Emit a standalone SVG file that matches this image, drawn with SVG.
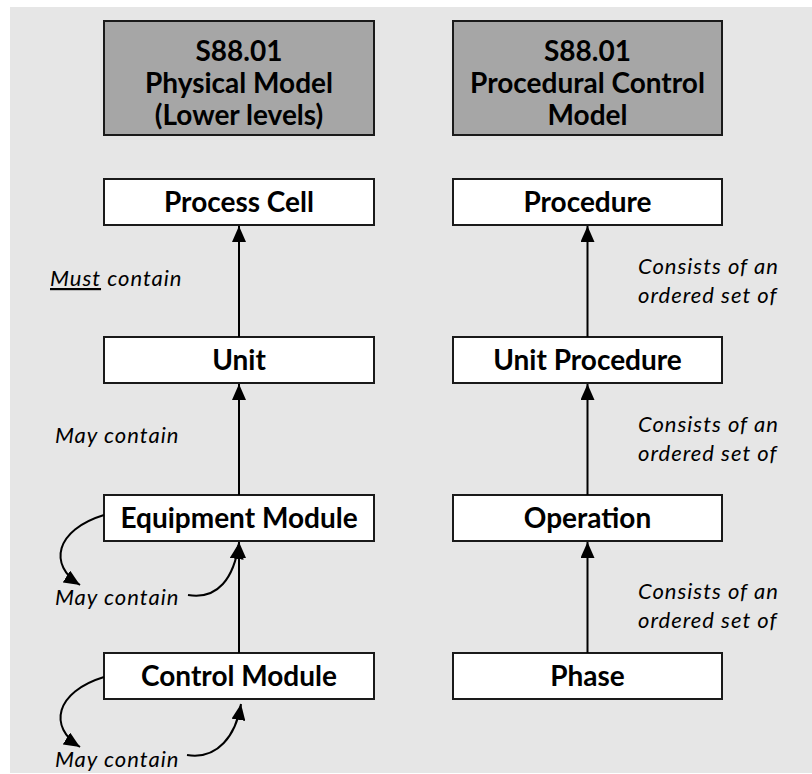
<svg xmlns="http://www.w3.org/2000/svg" width="812" height="774" viewBox="0 0 812 774">
  <style>
    .hdr { fill: #a6a6a6; stroke: #1a1a1a; stroke-width: 2; }
    .box { fill: #ffffff; stroke: #1a1a1a; stroke-width: 2; }
    .bold { font-family: Lato, "Liberation Sans", sans-serif; font-weight: bold; font-size: 28px; fill: #000; text-anchor: middle; }
    .lbl { font-family: Lato, "Liberation Sans", sans-serif; font-style: italic; font-size: 22px; letter-spacing: 1px; fill: #000; }
    .edge { fill: none; stroke: #000; stroke-width: 2; }
  </style>
  <defs>
    <marker id="arrow" viewBox="0 0 16 14" refX="16" refY="7" markerWidth="16" markerHeight="14" markerUnits="userSpaceOnUse" orient="auto">
      <path d="M0,0 L16,7 L0,14 Z" fill="#000"/>
    </marker>
  </defs>

  <!-- canvas -->
  <rect x="10" y="7" width="802" height="766" fill="#e6e6e6"/>

  <!-- column headers -->
  <g id="hdr-physical">
    <rect class="hdr" x="104" y="21" width="270" height="114"/>
    <text class="bold" x="239" y="61">S88.01</text>
    <text class="bold" x="239" y="93">Physical Model</text>
    <text class="bold" x="239" y="125">(Lower levels)</text>
  </g>
  <g id="hdr-procedural">
    <rect class="hdr" x="453" y="21" width="269" height="114"/>
    <text class="bold" x="587.5" y="61">S88.01</text>
    <text class="bold" x="587.5" y="93">Procedural Control</text>
    <text class="bold" x="587.5" y="125">Model</text>
  </g>

  <!-- physical model nodes -->
  <g id="process-cell">
    <rect class="box" x="104" y="179" width="270" height="46"/>
    <text class="bold" x="239" y="212">Process Cell</text>
  </g>
  <g id="unit">
    <rect class="box" x="104" y="337" width="270" height="46"/>
    <text class="bold" x="239" y="370">Unit</text>
  </g>
  <g id="equipment-module">
    <rect class="box" x="104" y="495" width="270" height="46"/>
    <text class="bold" x="239" y="528">Equipment Module</text>
  </g>
  <g id="control-module">
    <rect class="box" x="104" y="653" width="270" height="46"/>
    <text class="bold" x="239" y="686">Control Module</text>
  </g>

  <!-- procedural control model nodes -->
  <g id="procedure">
    <rect class="box" x="453" y="179" width="269" height="46"/>
    <text class="bold" x="587.5" y="212">Procedure</text>
  </g>
  <g id="unit-procedure">
    <rect class="box" x="453" y="337" width="269" height="46"/>
    <text class="bold" x="587.5" y="370">Unit Procedure</text>
  </g>
  <g id="operation">
    <rect class="box" x="453" y="495" width="269" height="46"/>
    <text class="bold" x="587.5" y="528">Operation</text>
  </g>
  <g id="phase">
    <rect class="box" x="453" y="653" width="269" height="46"/>
    <text class="bold" x="587.5" y="686">Phase</text>
  </g>

  <!-- connectors -->
  <g id="connectors">
    <path class="edge" d="M239,337 V226" marker-end="url(#arrow)"/>
    <path class="edge" d="M239,495 V384" marker-end="url(#arrow)"/>
    <path class="edge" d="M239,653 V542" marker-end="url(#arrow)"/>
    <path class="edge" d="M587.5,337 V226" marker-end="url(#arrow)"/>
    <path class="edge" d="M587.5,495 V384" marker-end="url(#arrow)"/>
    <path class="edge" d="M587.5,653 V542" marker-end="url(#arrow)"/>
    <!-- self-containment loops -->
    <path class="edge" d="M104,515 C55,530 48,565 80,585" marker-end="url(#arrow)"/>
    <path class="edge" d="M188,595 C218,600 234,578 239,543" marker-end="url(#arrow)"/>
    <path class="edge" d="M104,677 C55,692 48,727 80,747" marker-end="url(#arrow)"/>
    <path class="edge" d="M187,755 C218,760 236,735 241,704" marker-end="url(#arrow)"/>
  </g>

  <!-- connector labels -->
  <g id="labels">
    <text class="lbl" x="50" y="286"><tspan text-decoration="underline">Must</tspan> contain</text>
    <text class="lbl" x="55" y="443">May contain</text>
    <text class="lbl" x="55" y="605">May contain</text>
    <text class="lbl" x="55" y="767">May contain</text>
    <text class="lbl" x="638" y="274">Consists of an</text>
    <text class="lbl" x="638" y="303">ordered set of</text>
    <text class="lbl" x="638" y="432">Consists of an</text>
    <text class="lbl" x="638" y="461">ordered set of</text>
    <text class="lbl" x="638" y="599">Consists of an</text>
    <text class="lbl" x="638" y="628">ordered set of</text>
  </g>
</svg>
